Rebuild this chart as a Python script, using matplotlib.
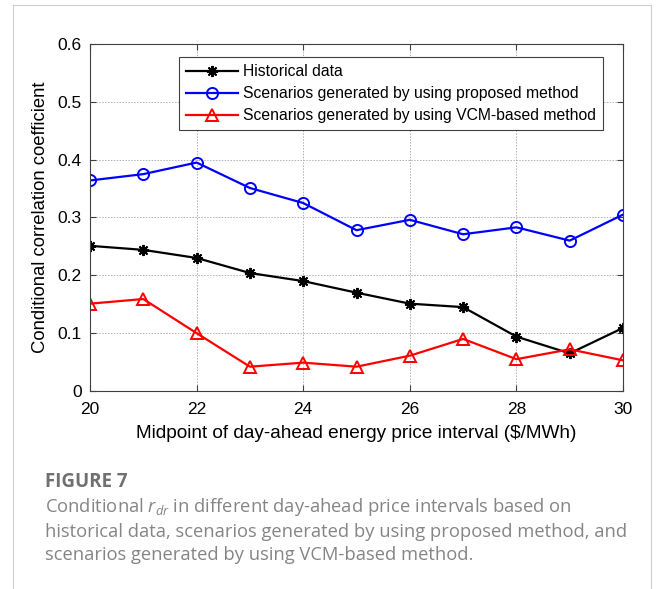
import matplotlib
matplotlib.use("Agg")
import matplotlib.pyplot as plt
from matplotlib.lines import Line2D

# 数据
price_mid = [20, 21, 22, 23, 24, 25, 26, 27, 28, 29, 30]
historical = [0.251, 0.244, 0.230, 0.204, 0.190, 0.170, 0.151, 0.145, 0.094, 0.065, 0.109]
proposed = [0.364, 0.375, 0.395, 0.351, 0.325, 0.278, 0.296, 0.271, 0.283, 0.260, 0.305]
vcm = [0.151, 0.159, 0.100, 0.042, 0.049, 0.042, 0.061, 0.090, 0.055, 0.072, 0.053]

series_names = ["Historical data",
                "Scenarios generated by using proposed method",
                "Scenarios generated by using VCM-based method"]
x_ticks = [20, 22, 24, 26, 28, 30]
y_ticks = [0, 0.1, 0.2, 0.3, 0.4, 0.5, 0.6]
y_tick_labels = ["0", "0.1", "0.2", "0.3", "0.4", "0.5", "0.6"]

plt.rcParams["font.family"] = ["Liberation Sans", "DejaVu Sans"]
plt.rcParams["mathtext.fontset"] = "custom"
plt.rcParams["mathtext.it"] = "Open Sans:italic"
plt.rcParams["mathtext.rm"] = "Open Sans"

fig = plt.figure(figsize=(6.56, 5.89), dpi=100)
ax = fig.add_axes([0.1372, 0.3362, 0.8125, 0.5891])

ax.plot(price_mid, historical, color="black", lw=1.6, marker=(8, 2, 0),
        ms=8, mew=1.4, label=series_names[0])
ax.plot(price_mid, proposed, color="blue", lw=1.6, marker="o", ms=8,
        mfc="none", mew=1.4, label=series_names[1])
ax.plot(price_mid, vcm, color="red", lw=1.6, marker="^", ms=9,
        mfc="none", mew=1.4, label=series_names[2])

ax.set_xlim(20, 30)
ax.set_ylim(0, 0.6)
ax.set_xticks(x_ticks)
ax.set_yticks(y_ticks)
ax.set_yticklabels(y_tick_labels)
ax.tick_params(direction="in", labelsize=12.5, length=4, color="#404040",
               top=True, right=True)
ax.tick_params(axis="x", pad=8)
ax.tick_params(axis="y", pad=6)
ax.grid(True, linestyle=(0, (1.5, 1.5)), color="#b0b0b0", lw=0.7)
for s in ax.spines.values():
    s.set_color("#404040")
    s.set_linewidth(0.8)

ax.set_xlabel("Midpoint of day-ahead energy price interval ($/MWh)", fontsize=13.7, labelpad=6)
ax.set_ylabel("Conditional correlation coefficient", fontsize=13.3, labelpad=6)

leg = ax.legend(loc="upper left", bbox_to_anchor=(0.167, 0.9625), fontsize=11.3,
                handlelength=3.3, handletextpad=0.3, labelspacing=0.45,
                borderpad=0.45, borderaxespad=0, fancybox=False, framealpha=1)
leg.get_frame().set_edgecolor("#404040")
leg.get_frame().set_linewidth(0.8)

# 外框 (左, 上, 右)
fig.add_artist(Line2D([13 / 656, 13 / 656], [0, 1 - 5 / 589], color="#cfcfcf", lw=0.8))
fig.add_artist(Line2D([13 / 656, 651 / 656], [1 - 5 / 589, 1 - 5 / 589], color="#cfcfcf", lw=0.8))
fig.add_artist(Line2D([651 / 656, 651 / 656], [0, 1 - 5 / 589], color="#cfcfcf", lw=0.8))

# 图注
fig.text(45 / 656, 1 - 482 / 589, "FIGURE 7", fontsize=13.5, fontweight="bold",
         color="#707070", family="Open Sans", va="center")
caption = ("Conditional $r_{dr}$ in different day-ahead price intervals based on\n"
           "historical data, scenarios generated by using proposed method, and\n"
           "scenarios generated by using VCM-based method.")
fig.text(45 / 656, 1 - 496 / 589, caption, fontsize=13.2, color="#858585",
         family="Open Sans", va="top", linespacing=1.34)

fig.savefig("out.png", dpi=100)
